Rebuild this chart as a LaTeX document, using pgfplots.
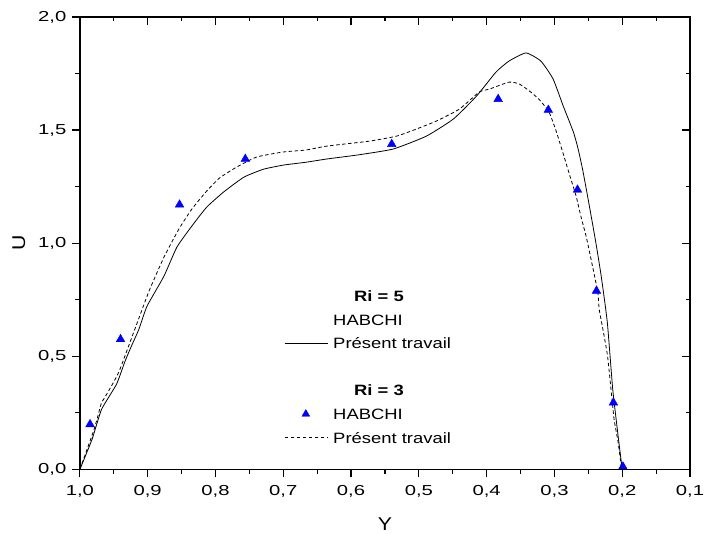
\documentclass[border=0pt]{standalone}
\usepackage{pgfplots}
\pgfplotsset{compat=1.18}
\usepackage{fontspec}
\setmainfont{Liberation Sans}
\newfontfamily\tickfont[FakeStretch=1.4]{Liberation Sans}
\newfontfamily\legfont[FakeStretch=1.23]{Liberation Sans}
\newfontfamily\labfont[FakeStretch=1.15]{Liberation Sans}

\pgfplotsset{
  lineleg/.style={legend image code/.code={\draw[##1] (0pt,0pt) -- (43pt,0pt);}},
  markleg/.style={legend image code/.code={\draw[##1] plot coordinates {(21pt,0pt)};}},
}

\pgfplotstableread{
x y
1.000 0.000
0.982 0.133
0.968 0.265
0.946 0.376
0.934 0.473
0.926 0.531
0.913 0.619
0.901 0.721
0.876 0.854
0.857 0.982
0.835 1.075
0.813 1.159
0.788 1.226
0.758 1.292
0.729 1.327
0.700 1.345
0.666 1.358
0.636 1.372
0.590 1.390
0.538 1.416
0.489 1.473
0.449 1.549
0.415 1.650
0.386 1.757
0.367 1.805
0.342 1.841
0.320 1.805
0.302 1.726
0.287 1.606
0.272 1.491
0.265 1.416
0.258 1.319
0.249 1.173
0.239 1.004
0.231 0.854
0.222 0.650
0.214 0.354
0.206 0.146
0.200 0.000
}\riCinqTravail

\pgfplotstableread{
x y
1.000 0.000
0.979 0.177
0.968 0.296
0.963 0.319
0.943 0.427
0.920 0.611
0.898 0.788
0.876 0.938
0.854 1.062
0.835 1.150
0.813 1.230
0.794 1.288
0.769 1.336
0.739 1.381
0.700 1.403
0.666 1.412
0.636 1.429
0.573 1.451
0.533 1.473
0.504 1.504
0.474 1.540
0.440 1.593
0.411 1.668
0.396 1.681
0.367 1.712
0.352 1.704
0.337 1.673
0.323 1.637
0.308 1.580
0.297 1.491
0.286 1.385
0.278 1.305
0.268 1.208
0.261 1.119
0.253 1.027
0.246 0.929
0.236 0.783
0.234 0.708
0.228 0.611
0.222 0.509
0.218 0.398
0.212 0.221
0.206 0.119
0.201 0.000
}\riTroisTravail

\pgfplotstableread{
x y
0.985 0.199
0.940 0.575
0.853 1.170
0.756 1.372
0.540 1.438
0.383 1.637
0.309 1.589
0.266 1.236
0.238 0.789
0.213 0.295
0.199 0.012
}\riTroisHabchi

\begin{document}
\begin{tikzpicture}
\pgfplotsset{
  common/.style={
    scale only axis, width=611pt, height=453pt,
    xmin=0.1, xmax=1.0, ymin=0, ymax=2, x dir=reverse,
    xtick={0.1,0.2,0.3,0.4,0.5,0.6,0.7,0.8,0.9,1.0},
    ytick={0,0.5,1,1.5,2},
    minor x tick num=1, minor y tick num=1,
    major tick length=8pt, minor tick length=4.5pt,
    axis line style={line width=1.5pt},
    tick style={line width=1.2pt, black},
  }
}
\begin{axis}[common,
  xtick pos=left, ytick pos=left, tick align=outside,
  /pgf/number format/.cd, use comma, fixed, fixed zerofill, precision=1, assume math mode=true,
  /pgfplots/.cd,
  ticklabel style={font=\tickfont\fontsize{14.5}{17}\selectfont},
  xticklabel style={yshift=-5pt},
  yticklabel style={xshift=-2pt},
  xlabel={Y}, ylabel={U},
  label style={font=\labfont\fontsize{18.5}{22}\selectfont},
  xlabel style={at={(axis description cs:0.5,0)}, anchor=center, yshift=-55pt},
  ylabel style={at={(axis description cs:0,0.5)}, anchor=center, yshift=61pt},
  legend style={draw=none, fill=none, at={(rel axis cs:0.335,0.401)}, anchor=north west,
    font=\legfont\fontsize{15}{18}\selectfont, row sep=7.5pt, column sep=4pt, inner sep=0pt,
    nodes={inner sep=1pt},
    cells={anchor=west}},
  legend cell align=left,
]
\addplot[black, line width=0.8pt, smooth, tension=0.3, forget plot] table {\riCinqTravail};
\addplot[black, line width=0.8pt, smooth, tension=0.3, dash pattern=on 3.5pt off 2.5pt, forget plot] table {\riTroisTravail};
\addplot[only marks, mark=triangle*, mark size=5pt, blue, forget plot] table {\riTroisHabchi};

\addlegendimage{empty legend}
\addlegendentry{\strut\hspace{21pt}\textbf{Ri = 5}}
\addlegendimage{empty legend}
\addlegendentry{\strut HABCHI}
\addlegendimage{black, line width=0.8pt, lineleg}
\addlegendentry{\strut Présent travail}
\addlegendimage{empty legend}
\addlegendentry{\strut}
\addlegendimage{empty legend}
\addlegendentry{\strut\hspace{21pt}\textbf{Ri = 3}}
\addlegendimage{only marks, mark=triangle*, mark size=4.5pt, blue, markleg}
\addlegendentry{\strut HABCHI}
\addlegendimage{black, line width=0.8pt, dash pattern=on 3.5pt off 2.5pt, lineleg}
\addlegendentry{\strut Présent travail}
\end{axis}
\begin{axis}[common,
  xtick pos=right, ytick pos=right, tick align=inside,
  xticklabels={}, yticklabels={},
]
\end{axis}
\pgfresetboundingbox
\useasboundingbox ([shift={(-80pt,-64pt)}]current axis.south west) rectangle ([shift={(15pt,17pt)}]current axis.north east);
\end{tikzpicture}
\end{document}
